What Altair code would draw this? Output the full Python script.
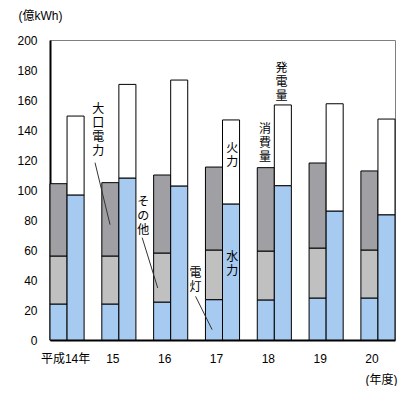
import altair as alt
import pandas as pd

# ---- data ----
years = ["平成14年", "15", "16", "17", "18", "19", "20"]
dento = [24.0, 24.0, 25.3, 26.9, 26.7, 28.0, 28.0]          # 電灯
sonota = [32.0, 32.0, 32.7, 33.1, 32.6, 33.3, 32.0]         # その他
oguchi = [48.2, 48.9, 52.0, 55.3, 55.6, 56.7, 52.7]         # 大口電力
suiryoku = [96.7, 108.0, 102.7, 90.7, 102.9, 86.0, 83.5]    # 水力
karyoku = [52.6, 62.4, 70.6, 56.0, 53.8, 71.5, 63.8]        # 火力

series_names = ["電灯", "その他", "大口電力", "水力", "火力"]
series_side = ["消費量", "消費量", "消費量", "発電量", "発電量"]
series_colors = ["#A6CAF0", "#C0C0C0", "#A0A0A4", "#A6CAF0", "#FFFFFF"]
series_values = [dento, sonota, oguchi, suiryoku, karyoku]
sides = ["消費量", "発電量"]
y_ticks = [0, 20, 40, 60, 80, 100, 120, 140, 160, 180, 200]

# annotations (x in group units: 0 = centre of first year group)
ann_text = [list("大口電力"), list("その他"), list("電灯"), list("火力"),
            list("水力"), list("消費量"), list("発電量")]
ann_x = [0.60, 1.47, 2.48, 3.19, 3.19, 3.82, 4.14]
ann_y = [157.5, 95.5, 48.2, 131.5, 59.0, 144.0, 185.0]

lead_x = [0.54, 1.45, 2.48]
lead_y = [118.2, 68.2, 29.1]
lead_x2 = [0.83, 1.75, 2.80]
lead_y2 = [76.9, 34.7, 6.9]

# ---- tables ----
rows = []
for k, (name, side, vals) in enumerate(zip(series_names, series_side, series_values)):
    for yr, v in zip(years, vals):
        rows.append({"year": yr, "side": side, "series": name, "value": v, "order": k})
df = pd.DataFrame(rows)

ann_df = pd.DataFrame({"label": ann_text, "x": ann_x, "y": ann_y})
lead_df = pd.DataFrame({"x": lead_x, "y": lead_y, "x2": lead_x2, "y2": lead_y2})

FONT = "Liberation Sans, Noto Sans CJK JP"
PAD_INNER = 0.342
n = len(years)
lin_domain = [-(1 - PAD_INNER) / 2, n - 0.5 - 0.5 * PAD_INNER]

yscale = alt.Scale(domain=[0, 200], nice=False)


def y_axis():
    return alt.Axis(title="(億kWh)", values=y_ticks, ticks=False,
                    labelOverlap=False, labelFlush=False,
                    grid=False, labelPadding=13, titleAngle=0, titleAlign="left",
                    titleBaseline="middle", titleX=-32, titleY=-25,
                    titleFontWeight="normal")


bars = alt.Chart(df).transform_stack(
    stack="value", groupby=["year", "side"],
    sort=[alt.SortField("order", "ascending")], as_=["y0", "y1"]
).mark_bar(stroke="black", strokeWidth=1).encode(
    x=alt.X("year:N", sort=years,
            scale=alt.Scale(paddingInner=PAD_INNER, paddingOuter=0),
            axis=alt.Axis(title="(年度)", ticks=False, labelAngle=0,
                          labelPadding=13, labelOverlap=False,
                          labelOffset={"condition": {"test": "datum.value == '平成14年'", "value": -1.5},
                                       "value": -6},
                          titleAlign="left", titleBaseline="middle",
                          titleX=315, titleY=39, titleFontWeight="normal")),
    xOffset=alt.XOffset("side:N", sort=sides, scale=alt.Scale(paddingInner=0, paddingOuter=0)),
    y=alt.Y("y0:Q", scale=yscale, axis=y_axis()),
    y2="y1:Q",
    color=alt.Color("series:N", scale=alt.Scale(domain=series_names, range=series_colors),
                    legend=None),
)

xlin = alt.Scale(domain=lin_domain, nice=False, zero=False)

texts = alt.Chart(ann_df).mark_text(
    align="center", baseline="top", fontSize=12, lineHeight=14, font=FONT, color="black"
).encode(
    x=alt.X("x:Q", scale=xlin, axis=None),
    y=alt.Y("y:Q", scale=yscale, axis=y_axis()),
    text="label",
)

leads = alt.Chart(lead_df).mark_rule(color="#333333", strokeWidth=1).encode(
    x=alt.X("x:Q", scale=xlin, axis=None),
    y=alt.Y("y:Q", scale=yscale, axis=y_axis()),
    x2="x2:Q",
    y2="y2:Q",
)

chart = alt.layer(bars, leads, texts).resolve_scale(x="independent").properties(
    width=345, height=300,
    autosize=alt.AutoSizeParams(type="none"),
    padding={"left": 42, "top": 32, "right": 15, "bottom": 46},
).configure_view(
    stroke="#808080", strokeWidth=1
).configure_axis(
    domainColor="black", domainWidth=2, labelFont=FONT, titleFont=FONT,
    labelFontSize=12, titleFontSize=12, labelColor="black", titleColor="black",
)

chart.save("out.html", embed_options={"renderer": "svg", "actions": False})
